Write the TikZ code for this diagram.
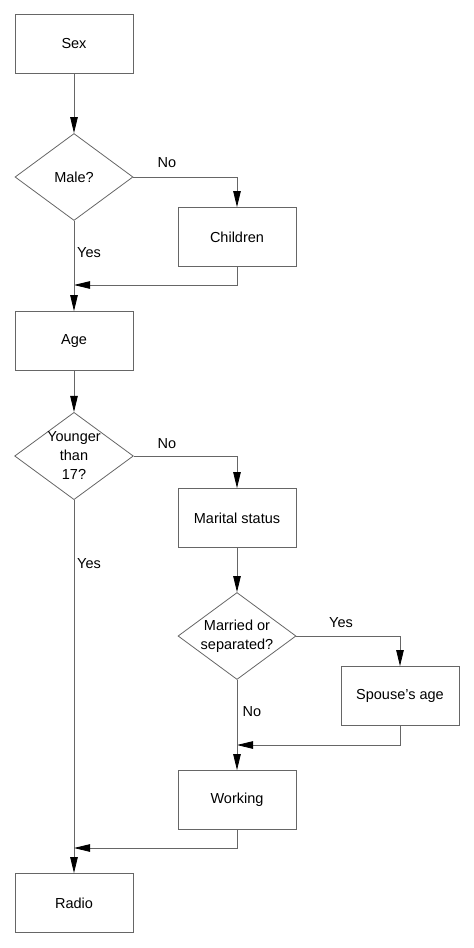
\documentclass[tikz,border=0pt]{standalone}
\usepackage{fontspec}
\setmainfont{Liberation Sans}
\usetikzlibrary{shapes.geometric,arrows.meta}
\tikzset{
  box/.style={draw=black!60, line width=0.8pt, minimum width=118pt, minimum height=59pt, inner sep=0pt, align=center, font=\fontsize{14.5}{19}\selectfont},
  decision/.style={draw=black!60, line width=0.8pt, diamond, aspect=1.36, minimum width=118pt, minimum height=87pt, inner sep=0pt, align=center, font=\fontsize{14.5}{19}\selectfont},
  lbl/.style={inner sep=0pt, font=\fontsize{14.5}{17}\selectfont},
  flow/.style={draw=black!60, line width=0.8pt, -{Triangle[length=16pt,width=7.5pt,color=black]}},
  line/.style={draw=black!60, line width=0.8pt}
}
\begin{document}
\begin{tikzpicture}[x=1pt,y=-1pt]
    \useasboundingbox (0,0) rectangle (474,948);
    % main column
    \node[box] (sex) at (74,44) {Sex};
    \node[decision] (male) at (74,177) {Male?};
    \node[box] (children) at (237,237) {Children};
    \node[box] (age) at (74,341) {Age};
    \node[decision] (younger) at (74,456) {Younger\\than\\17?};
    \node[box] (marital) at (237,518) {Marital status};
    \node[decision] (married) at (237,636) {Married or\\separated?};
    \node[box] (spouse) at (400,696) {Spouse's age};
    \node[box] (working) at (237,800) {Working};
    \node[box] (radio) at (74,903) {Radio};
    % join points
    \coordinate (j1) at (74,285);
    \coordinate (j2) at (237,745);
    \coordinate (j3) at (74,848);
    % connectors
    \draw[flow] (sex) -- (male);
    \draw[flow] (male.east) -| (children.north);
    \draw[flow] (children.south) |- (j1);
    \draw[flow] (male.south) -- (age.north);
    \draw[flow] (age) -- (younger);
    \draw[flow] (younger.east) -| (marital.north);
    \draw[flow] (younger.south) -- (radio.north);
    \draw[flow] (marital) -- (married);
    \draw[flow] (married.east) -| (spouse.north);
    \draw[flow] (spouse.south) |- (j2);
    \draw[flow] (married.south) -- (working.north);
    \draw[flow] (working.south) |- (j3);
    % labels
    \node[lbl] (no1) at (167,163) {No};
    \node[lbl] (yes1) at (89,253) {Yes};
    \node[lbl] (no2) at (167,444) {No};
    \node[lbl] (yes2) at (89,564) {Yes};
    \node[lbl] (yes3) at (341,623) {Yes};
    \node[lbl] (no3) at (252,712) {No};
\end{tikzpicture}
\end{document}
